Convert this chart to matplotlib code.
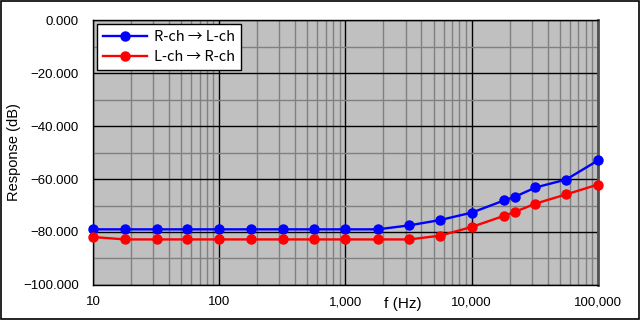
import numpy as np
import matplotlib
matplotlib.use("Agg")
import matplotlib.pyplot as plt
from matplotlib.ticker import FuncFormatter, LogLocator, MultipleLocator
from matplotlib.patches import Rectangle

plt.rcParams['font.family'] = ['Liberation Sans', 'DejaVu Sans']
plt.rcParams['font.size'] = 9

# frequency points (Hz)
freq = [10, 18, 32, 56, 100, 180, 320, 560, 1000, 1800, 3200, 5600,
        10000, 18000, 22000, 32000, 56000, 100000]
# crosstalk response (dB)
r_to_l = [-79.0, -79.0, -79.0, -79.0, -79.0, -79.0, -79.0, -79.0, -79.0, -79.0,
          -77.5, -75.5, -72.7, -68.1, -66.7, -63.2, -60.2, -53.0]
l_to_r = [-81.9, -82.8, -82.8, -82.8, -82.8, -82.8, -82.8, -82.8, -82.8, -82.8,
          -82.8, -81.4, -78.1, -73.9, -72.4, -69.3, -65.8, -62.1]
labels = ["R-ch \u2192 L-ch", "L-ch \u2192 R-ch"]

fig = plt.figure(figsize=(6.4, 3.2), dpi=100)
fig.patch.set_facecolor("white")
fig.patches.append(Rectangle((0.001, 0.002), 0.997, 0.995, transform=fig.transFigure,
                             fill=False, edgecolor="black", linewidth=1.2))

ax = fig.add_axes([0.1453, 0.1094, 0.789, 0.828])
ax.set_facecolor("#C0C0C0")

ax.plot(freq, r_to_l, color="#0000FF", lw=1.7, marker="o", ms=6.5, label=labels[0],
        clip_on=False, zorder=5)
ax.plot(freq, l_to_r, color="#FF0000", lw=1.7, marker="o", ms=6.5, label=labels[1],
        clip_on=False, zorder=5)

ax.set_xscale("log")
ax.set_xlim(10, 100000)
ax.set_ylim(-100, 0)
ax.xaxis.set_major_locator(LogLocator(base=10, numticks=10))
ax.xaxis.set_minor_locator(LogLocator(base=10, subs=np.arange(2, 10), numticks=20))
ax.xaxis.set_major_formatter(FuncFormatter(lambda v, p: f"{int(round(v)):,}"))
ax.xaxis.set_minor_formatter(FuncFormatter(lambda v, p: ""))
ax.yaxis.set_major_locator(MultipleLocator(20))
ax.yaxis.set_minor_locator(MultipleLocator(10))
ax.yaxis.set_major_formatter(FuncFormatter(lambda v, p: f"{v:.3f}".replace("-", "\u2212")))

ax.grid(which="minor", color="#808080", lw=1)
ax.grid(which="major", color="black", lw=1)
ax.set_axisbelow(True)
ax.tick_params(which="both", length=0)
ax.tick_params(axis="y", pad=10, labelsize=9.5)
ax.tick_params(axis="x", pad=8, labelsize=9.5)

for s in ["left", "bottom", "top"]:
    ax.spines[s].set_color("black")
    ax.spines[s].set_linewidth(1)
ax.spines["right"].set_color("#505050")
ax.spines["right"].set_linewidth(2)

ax.set_ylabel("Response (dB)", fontsize=10.5, labelpad=2)
fig.text(0.63, 0.05, "f (Hz)", fontsize=11, ha="center", va="center")

leg = ax.legend(loc="upper left", fancybox=False, framealpha=1, edgecolor="black",
                borderaxespad=0.3, handlelength=3.0, borderpad=0.4,
                labelspacing=0.4, handletextpad=0.5,
                prop={"family": ["Noto Sans CJK JP", "DejaVu Sans"], "size": 10.5})
leg.get_frame().set_linewidth(1)

fig.savefig("out.png", dpi=100)
